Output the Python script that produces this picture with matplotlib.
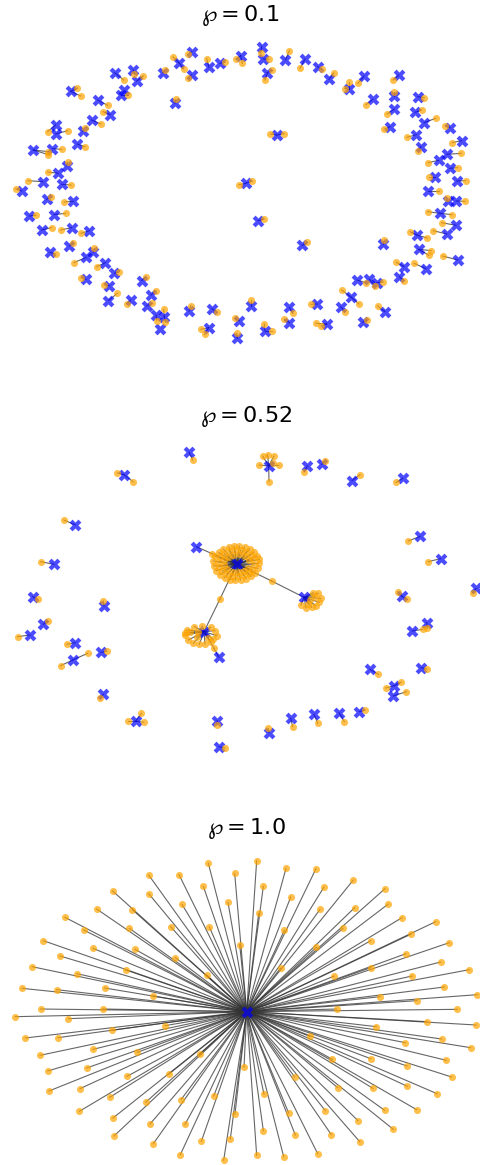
import numpy as np
import matplotlib.pyplot as plt

# node layouts, in layout units (1440 wide per panel, y grows downwards)
titles = [r'$\wp = 0.1$', r'$\wp = 0.52$', r'$\wp = 1.0$']

# ---- p = 0.1 : mostly pairs / triples ----
blue1 = [(785, 140), (790, 177), (575, 155), (537, 188), (575, 225), (627, 202), (660, 190), (722, 167),
         (856, 180), (915, 177), (953, 200), (987, 238), (1092, 228), (1048, 268), (1196, 225), (1183, 287),
         (1118, 298), (1183, 327), (1253, 290), (1245, 337), (1272, 368), (1350, 383), (1385, 422), (1170, 380),
         (1249, 404), (1263, 440), (1340, 463), (1316, 481), (1350, 505), (1305, 530), (1370, 543), (1285, 572),
         (1343, 604), (1368, 603), (1320, 640), (1368, 676), (1340, 702), (1250, 705), (1256, 748), (1373, 780),
         (1278, 806), (1212, 800), (1198, 830), (1150, 733), (1071, 840), (1108, 838), (1130, 848), (1054, 892),
         (1022, 920), (1155, 935), (1088, 967), (980, 972), (952, 912), (868, 922), (868, 968), (795, 992),
         (753, 918), (718, 962), (712, 1015), (626, 983), (636, 926), (567, 933), (453, 885), (440, 918),
         (468, 945), (493, 950), (480, 988), (425, 842), (392, 900), (325, 902), (328, 857), (343, 820),
         (316, 788), (258, 838), (280, 757), (258, 772), (208, 738), (150, 757), (125, 690), (215, 683),
         (268, 692), (88, 648), (162, 644), (140, 598), (220, 604), (65, 573), (128, 545), (185, 553),
         (175, 520), (200, 497), (100, 450), (157, 446), (167, 375), (167, 402), (232, 432), (248, 394),
         (275, 360), (293, 300), (331, 344), (212, 274), (364, 285), (372, 270), (344, 218), (400, 210),
         (410, 243), (488, 219), (525, 310), (830, 405), (737, 550), (774, 662), (907, 736), (802, 218)]

# (x, y, index of the blue node it links to)
orange1 = [(783, 158, 0), (806, 178, 1), (563, 163, 2), (519, 171, 3), (551, 207, 3), (563, 235, 4),
           (620, 176, 5), (675, 187, 6), (708, 177, 7), (727, 190, 7), (868, 152, 8), (900, 205, 9),
           (966, 208, 10), (1001, 219, 11), (1074, 250, 12), (1048, 245, 13), (1034, 266, 13), (1179, 240, 14),
           (1183, 276, 15), (1098, 314, 16), (1161, 342, 17), (1273, 293, 18), (1265, 330, 19), (1307, 355, 20),
           (1336, 377, 21), (1356, 428, 22), (1152, 388, 23), (1221, 412, 24), (1255, 453, 25), (1384, 460, 26),
           (1284, 488, 27), (1373, 503, 28), (1287, 530, 29), (1397, 542, 30), (1316, 572, 31), (1340, 593, 32),
           (1395, 604, 33), (1283, 635, 34), (1356, 644, 34), (1325, 668, 35), (1300, 692, 36), (1230, 695, 37),
           (1282, 714, 37), (1294, 752, 38), (1287, 766, 38), (1328, 768, 39), (1242, 790, 40), (1189, 787, 41),
           (1212, 842, 42), (1153, 720, 43), (1098, 848, 44), (1150, 846, 46), (1125, 858, 45), (1025, 870, 47),
           (1077, 912, 47), (1035, 935, 48), (1133, 918, 49), (1100, 960, 50), (963, 978, 51), (948, 970, 51),
           (933, 913, 52), (878, 940, 53), (853, 958, 54), (793, 972, 55), (815, 992, 55), (753, 900, 56),
           (705, 955, 57), (710, 1000, 58), (603, 988, 59), (614, 1003, 59), (650, 936, 60), (572, 917, 61),
           (468, 872, 62), (456, 910, 63), (491, 928, 65), (470, 962, 64), (496, 967, 65), (437, 831, 67),
           (380, 912, 68), (352, 880, 69), (312, 855, 70), (358, 815, 71), (290, 800, 72), (243, 833, 73),
           (283, 745, 74), (222, 788, 75), (218, 730, 76), (167, 762, 77), (155, 683, 78), (182, 690, 79),
           (243, 700, 80), (108, 646, 81), (197, 640, 82), (152, 590, 83), (193, 606, 84), (47, 567, 85),
           (84, 542, 86), (213, 555, 87), (143, 516, 88), (203, 486, 89), (145, 464, 90), (145, 455, 90),
           (185, 448, 91), (143, 395, 92), (203, 392, 93), (255, 440, 94), (255, 383, 95), (303, 372, 96),
           (323, 316, 97), (309, 335, 98), (232, 264, 99), (242, 288, 99), (384, 285, 100), (371, 240, 102),
           (403, 222, 103), (430, 228, 104), (495, 210, 105), (527, 298, 106), (811, 402, 107), (852, 401, 107),
           (717, 554, 108), (757, 543, 108), (792, 657, 109), (921, 727, 110), (816, 210, 111), (795, 240, 111)]
bridge1 = []

# ---- p = 0.52 : a few hubs in the middle ----
blue2 = [(567, 157), (372, 224), (806, 198), (922, 198), (965, 193), (1056, 242), (1208, 235), (226, 375),
         (162, 493), (1260, 409), (1322, 476), (589, 440), (710, 492), (912, 592), (612, 695), (657, 772),
         (98, 590), (312, 618), (130, 673), (90, 705), (226, 728), (218, 780), (303, 757), (310, 883),
         (407, 963), (652, 962), (657, 1040), (807, 998), (872, 955), (942, 943), (1017, 938), (1078, 935),
         (1110, 808), (1183, 857), (1180, 888), (1263, 803), (1237, 693), (1280, 668), (1205, 588), (1428, 565)]

orange2 = [(578, 180, 0), (352, 219, 1), (399, 245, 1),
           (788, 168, 2), (803, 164, 2), (822, 168, 2), (778, 195, 2), (820, 188, 2), (836, 196, 2), (807, 245, 2),
           (912, 216, 3), (975, 183, 4), (1080, 224, 5), (1188, 247, 6), (192, 360, 7), (122, 485, 8),
           (1225, 423, 9), (1284, 485, 10),
           # big hub, outer ring
           (776, 490, 12), (773, 505, 12), (765, 519, 12), (753, 529, 12), (738, 536, 12), (722, 540, 12),
           (706, 541, 12), (690, 539, 12), (674, 533, 12), (660, 524, 12), (648, 512, 12), (641, 498, 12),
           (640, 483, 12), (646, 469, 12), (656, 457, 12), (670, 447, 12), (686, 441, 12), (702, 438, 12),
           (718, 438, 12), (734, 441, 12), (749, 447, 12), (762, 456, 12), (771, 468, 12), (778, 478, 12),
           # big hub, middle ring
           (762, 495, 12), (757, 510, 12), (746, 520, 12), (731, 526, 12), (714, 528, 12), (697, 527, 12),
           (681, 522, 12), (667, 513, 12), (657, 500, 12), (655, 486, 12), (661, 472, 12), (673, 461, 12),
           (688, 454, 12), (705, 451, 12), (722, 451, 12), (739, 455, 12), (752, 464, 12), (760, 478, 12),
           # big hub, inner ring
           (745, 505, 12), (733, 514, 12), (716, 516, 12), (698, 515, 12), (682, 508, 12), (672, 496, 12),
           (673, 481, 12), (684, 470, 12), (700, 464, 12), (718, 463, 12), (735, 468, 12), (746, 480, 12),
           # right hub
           (940, 578, 13), (955, 580, 13), (962, 595, 13), (958, 607, 13), (948, 617, 13), (935, 622, 13),
           (918, 624, 13), (903, 615, 13), (945, 590, 13), (930, 600, 13), (925, 612, 13),
           # lower hub
           (560, 690, 14), (556, 705, 14), (565, 720, 14), (580, 730, 14), (598, 733, 14), (615, 732, 14),
           (632, 725, 14), (650, 707, 14), (645, 692, 14), (632, 682, 14), (607, 678, 14), (583, 680, 14),
           (570, 697, 14), (590, 712, 14), (625, 713, 14), (640, 718, 14), (595, 695, 14), (555, 698, 14),
           (113, 598, 16), (310, 603, 17), (143, 663, 18), (53, 710, 19), (200, 733, 20), (182, 797, 21),
           (263, 760, 21), (320, 754, 22), (300, 895, 23), (384, 963, 24), (424, 940, 24), (431, 967, 24),
           (650, 975, 25), (675, 1044, 26), (805, 985, 27), (878, 980, 28), (953, 970, 29), (1033, 965, 30),
           (1095, 930, 31), (1135, 823, 32), (1157, 864, 33), (1204, 846, 33), (1219, 875, 34), (1281, 807, 35),
           (1268, 688, 36), (1282, 685, 37), (1193, 575, 38), (1221, 598, 38), (1418, 578, 39)]
# orange nodes joining two blue nodes: (x, y, blue a, blue b)
bridge2 = [(636, 461, 11, 12), (815, 543, 12, 13), (660, 597, 12, 14), (642, 745, 14, 15)]

# ---- p = 1.0 : a single star ----
blue3 = [(740, 605)]
orange3_xy = [(625, 160), (770, 152), (858, 175), (948, 176), (446, 195), (537, 194), (704, 190), (1060, 210),
              (1155, 236), (338, 243), (446, 251), (610, 229), (790, 229), (972, 231), (872, 261), (684, 277),
              (546, 283), (1165, 282), (290, 297), (397, 299), (960, 298), (1064, 293), (776, 310), (195, 322),
              (1206, 323), (1307, 335), (251, 360), (388, 355), (512, 350), (628, 351), (853, 361), (1029, 355),
              (1232, 373), (130, 392), (1112, 392), (1348, 398), (279, 415), (405, 418), (719, 404), (949, 412),
              (180, 438), (526, 443), (1218, 431), (1322, 456), (96, 470), (378, 480), (842, 474), (1112, 473),
              (1408, 479), (231, 491), (620, 495), (1003, 498), (1237, 498), (66, 535), (170, 539), (314, 534),
              (459, 558), (1333, 531), (1140, 560), (1251, 572), (1432, 554), (122, 597), (308, 597), (1010, 597),
              (1372, 598), (46, 620), (205, 626), (1280, 635), (1428, 645), (495, 647), (1129, 650), (335, 661),
              (76, 684), (174, 683), (929, 679), (1325, 687), (1216, 698), (1412, 713), (279, 718), (412, 727),
              (120, 736), (599, 733), (997, 748), (1112, 746), (1339, 751), (260, 774), (732, 772), (1221, 768),
              (143, 783), (381, 799), (507, 792), (884, 801), (1355, 801), (240, 836), (1013, 833), (1119, 835),
              (1222, 829), (147, 843), (792, 853), (329, 862), (641, 858), (543, 869), (437, 877), (1311, 851),
              (238, 904), (705, 912), (866, 909), (976, 902), (1154, 901), (1250, 899), (339, 924), (1074, 932),
              (450, 942), (555, 943), (790, 962), (1180, 958), (342, 978), (691, 987), (886, 975), (994, 974),
              (604, 994), (460, 1001), (1080, 996), (541, 1034), (770, 1036), (851, 1040), (953, 1031), (671, 1051)]
orange3 = [(x, y, 0) for x, y in orange3_xy]
bridge3 = []

panels = [(blue1, orange1, bridge1), (blue2, orange2, bridge2), (blue3, orange3, bridge3)]
# pixel rows of each panel and its title position (layout units)
rows = [(0, 360), (400, 770), (810, 1165)]
title_pos = [(720, 45), (738, 50), (738, 55)]

W, H = 480, 1165
fig = plt.figure(figsize=(W / 100, H / 100), dpi=100)

for (blue, orange, bridge), (top, bot), title, tpos in zip(panels, rows, titles, title_pos):
    ax = fig.add_axes([0, 1 - bot / H, 1, (bot - top) / H])
    ax.set_xlim(0, 1440)
    ax.set_ylim((bot - top) * 3, 0)
    ax.axis('off')

    blue = np.array(blue, dtype=float)
    orange = np.array(orange, dtype=float)

    # edges
    for x, y, b in orange:
        bx, by = blue[int(b)]
        ax.plot([x, bx], [y, by], color='#333333', lw=0.8, alpha=0.75, zorder=1)
    for x, y, a, b in bridge:
        for k in (a, b):
            bx, by = blue[k]
            ax.plot([x, bx], [y, by], color='#333333', lw=0.8, alpha=0.75, zorder=1)

    ax.scatter(blue[:, 0], blue[:, 1], marker='X', s=72, color='blue', alpha=0.7,
               linewidths=0, zorder=2)
    ox = list(orange[:, 0]) + [p[0] for p in bridge]
    oy = list(orange[:, 1]) + [p[1] for p in bridge]
    ax.scatter(ox, oy, marker='o', s=26, color='orange', alpha=0.7, linewidths=0, zorder=3)

    ax.text(tpos[0], tpos[1], title, ha='center', va='center', fontsize=16)

fig.savefig('out.png', dpi=100)
